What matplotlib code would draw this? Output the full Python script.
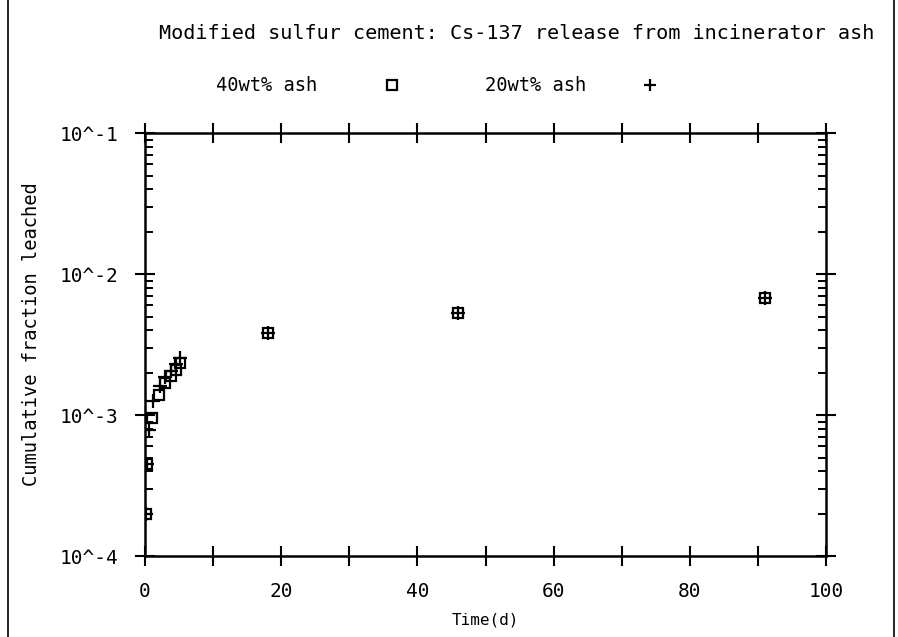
import matplotlib

matplotlib.use("Agg")
import matplotlib.pyplot as plt  # noqa: E402
from matplotlib.lines import Line2D  # noqa: E402
from matplotlib.ticker import LogLocator, NullFormatter  # noqa: E402

# Leach times (days) and cumulative fraction leached
time_40 = [0.08, 0.29, 1.0, 2.0, 3.0, 3.8, 4.6, 5.2, 18.0, 46.0, 91.0]
frac_40 = [2.0e-4, 4.5e-4, 9.5e-4, 1.38e-3, 1.7e-3, 1.9e-3, 2.1e-3, 2.35e-3,
           3.8e-3, 5.3e-3, 6.8e-3]

time_20 = [0.08, 0.29, 0.6, 1.2, 2.2, 3.0, 3.8, 4.6, 5.2, 18.0, 46.0, 91.0]
frac_20 = [2.0e-4, 4.5e-4, 7.8e-4, 1.25e-3, 1.6e-3, 1.85e-3, 2.05e-3, 2.3e-3,
           2.55e-3, 3.8e-3, 5.3e-3, 6.8e-3]

x_ticks = list(range(0, 101, 10))
x_labels = [str(v) if v % 20 == 0 else "" for v in x_ticks]
y_ticks = [1e-4, 1e-3, 1e-2, 1e-1]
y_labels = ["10^-4", "10^-3", "10^-2", "10^-1"]

plt.rcParams["font.family"] = "DejaVu Sans Mono"

fig = plt.figure(figsize=(8.98, 6.37), dpi=100)
ax = fig.add_axes([0.1615, 0.127, 0.7583, 0.664])

ax.plot(time_40, frac_40, linestyle="none", marker="s", markersize=7.5,
        markerfacecolor="none", markeredgecolor="black", markeredgewidth=1.6)
ax.plot(time_20, frac_20, linestyle="none", marker="+", markersize=10,
        color="black", markeredgewidth=1.6)

ax.set_yscale("log")
ax.set_xlim(0, 100)
ax.set_ylim(1e-4, 1e-1)

ax.set_xticks(x_ticks, labels=x_labels)
ax.set_yticks(y_ticks, labels=y_labels)
ax.yaxis.set_minor_locator(LogLocator(base=10, subs=range(2, 10)))
ax.yaxis.set_minor_formatter(NullFormatter())

ax.tick_params(axis="both", which="major", direction="inout", length=14,
               width=1.5, top=True, right=True, labelsize=14, colors="black")
ax.tick_params(axis="x", which="major", pad=12)
ax.tick_params(axis="y", which="major", pad=12)
ax.tick_params(axis="y", which="minor", direction="in", length=6, width=1.4,
               left=True, right=True)
for spine in ax.spines.values():
    spine.set_linewidth(1.8)

ax.set_xlabel("Time(d)", fontsize=11.5, labelpad=8)
ax.set_ylabel("Cumulative fraction leached", fontsize=13.5)
ax.yaxis.set_label_coords(-0.153, 0.525)

fig.text(0.575, 0.948, "Modified sulfur cement: Cs-137 release from incinerator ash",
         ha="center", va="center", fontsize=14.5)

sq = Line2D([], [], linestyle="none", marker="s", markersize=7,
            markerfacecolor="none", markeredgecolor="black", markeredgewidth=1.6)
pl = Line2D([], [], linestyle="none", marker="+", markersize=9,
            color="black", markeredgewidth=1.6)
leg1 = fig.legend([sq], ["40wt% ash"], loc="center", bbox_to_anchor=(0.349, 0.865),
                  frameon=False, markerfirst=False, fontsize=13.5,
                  handletextpad=3.0)
fig.legend([pl], ["20wt% ash"], loc="center", bbox_to_anchor=(0.642, 0.865),
           frameon=False, markerfirst=False, fontsize=13.5, handletextpad=2.4)

# scanned page border lines
fig.add_artist(Line2D([0.009, 0.009], [0, 1], color="black", linewidth=1.2))
fig.add_artist(Line2D([0.996, 0.996], [0, 1], color="black", linewidth=1.2))

fig.savefig("out.png", dpi=100)
plt.close(fig)
